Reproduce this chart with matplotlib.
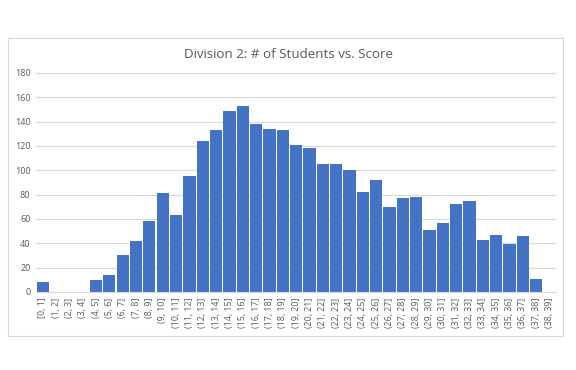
import matplotlib
matplotlib.use("Agg")
import matplotlib.pyplot as plt
from matplotlib.patches import Rectangle

categories = ["[0, 1]"] + [f"({i}, {i+1}]" for i in range(1, 39)]
counts = [8, 0, 0, 0, 10, 14, 30, 42, 58, 81, 63, 95, 124, 133, 149, 153, 138, 134, 133,
          121, 118, 105, 105, 100, 82, 92, 70, 77, 78, 51, 57, 72, 75, 43, 47, 39, 46, 11, 0]
title = "Division 2: # of Students vs. Score"
yticks = list(range(0, 181, 20))

fig = plt.figure(figsize=(5.76, 3.70), dpi=100)
fig.patch.set_facecolor("white")
fig.patches.append(Rectangle((0.0139, 0.092), 0.963, 0.805, transform=fig.transFigure,
                             fill=False, edgecolor="#D9D9D9", linewidth=0.8))

ax = fig.add_axes([0.0625, 0.211, 0.903, 0.592])
x = list(range(len(categories)))
ax.bar(x, counts, width=0.92, color="#4472C4", zorder=3)
ax.set_xlim(-0.5, len(categories) - 0.5)
ax.set_ylim(0, 180)
ax.set_yticks(yticks)
ax.set_xticks(x)
ax.set_xticklabels(categories, rotation=90, fontsize=6.4, color="#595959", family="Open Sans")
for lbl in ax.get_yticklabels():
    lbl.set_fontsize(6.5)
    lbl.set_color("#595959")
    lbl.set_family("Open Sans")
ax.tick_params(axis="both", length=0, pad=4)
ax.grid(axis="y", color="#D9D9D9", linewidth=0.8, zorder=0)
for s in ["top", "right", "left"]:
    ax.spines[s].set_visible(False)
ax.spines["bottom"].set_color("#D9D9D9")
ax.spines["bottom"].set_zorder(4)

fig.text(0.5, 0.852, title, ha="center", va="center", fontsize=9.6, color="#595959",
         family="Open Sans")

fig.savefig("out.png", dpi=100, facecolor="white")
